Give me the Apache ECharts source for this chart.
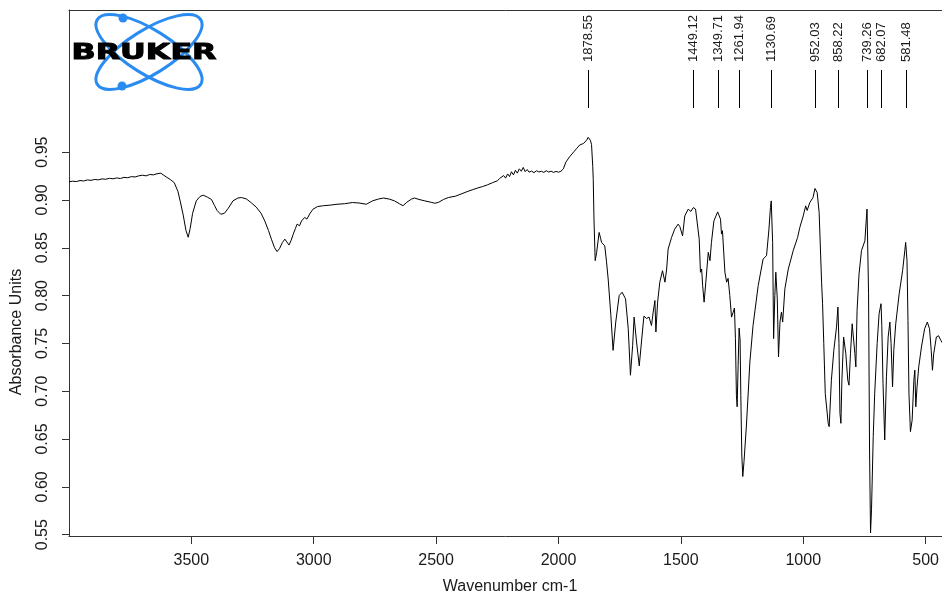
<!DOCTYPE html>
<html>
<head>
<meta charset="utf-8">
<title>IR spectrum</title>
<script src="https://cdn.jsdelivr.net/npm/echarts@6/dist/echarts.min.js"></script>
<style>
  html, body { margin: 0; padding: 0; background: #fff; }
  #main { width: 942px; height: 600px; }
</style>
</head>
<body>
<div id="main"></div>
<script>
// Absorbance spectrum: [wavenumber (cm-1), absorbance]
const spectrum = [
  [4000, 0.9190], [3985, 0.9196], [3970, 0.9192], [3955, 0.9203], [3940, 0.9198],
  [3925, 0.9209], [3910, 0.9205], [3895, 0.9214], [3880, 0.9210], [3865, 0.9220],
  [3850, 0.9216], [3835, 0.9226], [3820, 0.9221], [3805, 0.9230], [3790, 0.9224],
  [3775, 0.9236], [3760, 0.9232], [3745, 0.9244], [3730, 0.9240], [3715, 0.9252],
  [3700, 0.9258], [3685, 0.9252], [3670, 0.9266], [3655, 0.9262], [3640, 0.9274],
  [3625, 0.9280], [3615, 0.9262], [3600, 0.9236], [3585, 0.9212], [3570, 0.9180],
  [3555, 0.9090], [3545, 0.8980], [3534, 0.8850], [3522, 0.8680], [3513, 0.8610],
  [3505, 0.8700], [3495, 0.8860], [3480, 0.8990], [3465, 0.9035], [3452, 0.9050],
  [3435, 0.9030], [3418, 0.9005], [3405, 0.8940], [3395, 0.8890], [3380, 0.8850],
  [3365, 0.8860], [3350, 0.8910], [3330, 0.8990], [3310, 0.9020], [3295, 0.9025],
  [3275, 0.9010], [3255, 0.8970], [3235, 0.8925], [3215, 0.8860], [3200, 0.8780],
  [3185, 0.8680], [3173, 0.8590], [3160, 0.8500], [3150, 0.8460], [3140, 0.8490],
  [3128, 0.8555], [3118, 0.8590], [3110, 0.8595], [3101, 0.8528], [3092, 0.8580],
  [3084, 0.8640], [3075, 0.8700], [3068, 0.8747], [3058, 0.8730], [3050, 0.8780],
  [3037, 0.8817], [3028, 0.8800], [3015, 0.8860], [3003, 0.8903], [2985, 0.8930],
  [2960, 0.8940], [2935, 0.8945], [2905, 0.8955], [2875, 0.8960], [2842, 0.8973],
  [2815, 0.8968], [2785, 0.8955], [2760, 0.8990], [2735, 0.9010], [2715, 0.9020],
  [2690, 0.9008], [2670, 0.8990], [2650, 0.8960], [2635, 0.8940], [2620, 0.8975],
  [2600, 0.9010], [2588, 0.9020], [2570, 0.9005], [2546, 0.8990], [2520, 0.8975],
  [2505, 0.8965], [2490, 0.8975], [2470, 0.9005], [2450, 0.9025], [2420, 0.9040],
  [2390, 0.9070], [2370, 0.9090], [2350, 0.9108], [2330, 0.9125], [2310, 0.9140],
  [2290, 0.9158], [2270, 0.9180], [2250, 0.9200], [2240, 0.9225], [2232, 0.9205],
  [2224, 0.9255], [2216, 0.9228], [2208, 0.9272], [2200, 0.9245], [2192, 0.9295],
  [2184, 0.9262], [2176, 0.9310], [2168, 0.9280], [2160, 0.9325], [2152, 0.9300],
  [2144, 0.9340], [2136, 0.9295], [2128, 0.9318], [2120, 0.9290], [2110, 0.9302],
  [2100, 0.9285], [2090, 0.9305], [2080, 0.9292], [2070, 0.9300], [2060, 0.9288],
  [2050, 0.9305], [2040, 0.9292], [2030, 0.9300], [2020, 0.9288], [2010, 0.9298],
  [2000, 0.9290], [1990, 0.9300], [1980, 0.9325], [1970, 0.9395], [1962, 0.9385],
  [1955, 0.9450], [1945, 0.9480], [1935, 0.9510], [1925, 0.9540], [1913, 0.9575],
  [1905, 0.9565], [1898, 0.9590], [1892, 0.9582], [1885, 0.9625], [1878.55, 0.9655],
  [1870, 0.9625], [1865, 0.9580], [1860, 0.9350], [1858, 0.9216], [1855, 0.8800],
  [1850, 0.8365], [1844, 0.8452], [1834, 0.8660], [1828, 0.8600], [1824, 0.8556],
  [1817, 0.8573], [1811, 0.8520], [1804, 0.8360], [1797, 0.8174], [1786, 0.7792],
  [1777, 0.7427], [1766, 0.7723], [1752, 0.8000], [1740, 0.8035], [1726, 0.7966],
  [1715, 0.7653], [1706, 0.7167], [1697, 0.7480], [1691, 0.7775], [1681, 0.7515],
  [1670, 0.7265], [1661, 0.7515], [1651, 0.7785], [1640, 0.7760], [1630, 0.7775],
  [1620, 0.7687], [1613, 0.7827], [1606, 0.7948], [1602, 0.7619], [1595, 0.7931],
  [1586, 0.8140], [1575, 0.8260], [1565, 0.8140], [1558, 0.8278], [1552, 0.8486],
  [1538, 0.8608], [1525, 0.8695], [1511, 0.8747], [1504, 0.8720], [1493, 0.8625],
  [1484, 0.8833], [1470, 0.8903], [1459, 0.8880], [1449.12, 0.8920], [1440, 0.8905],
  [1434, 0.8885], [1425, 0.8590], [1420, 0.8244], [1415, 0.8278], [1411, 0.8104],
  [1405, 0.7931], [1398, 0.8140], [1388, 0.8452], [1381, 0.8365], [1375, 0.8556],
  [1365, 0.8781], [1349.71, 0.8875], [1338, 0.8799], [1334, 0.8643], [1330, 0.8678],
  [1320, 0.8244], [1313, 0.8140], [1307, 0.8180], [1300, 0.8000], [1293, 0.7775],
  [1286, 0.7827], [1281, 0.7870], [1277, 0.7549], [1273, 0.6958], [1270, 0.6837],
  [1266, 0.7271], [1261.94, 0.7660], [1258, 0.7535], [1255, 0.6958], [1251, 0.6333],
  [1247, 0.6108], [1242, 0.6264], [1232, 0.6646], [1218, 0.7306], [1205, 0.7688],
  [1184, 0.8104], [1164, 0.8382], [1150, 0.8417], [1140, 0.8695], [1134, 0.8920],
  [1130.69, 0.8990], [1125, 0.8556], [1121, 0.7549], [1116, 0.8000], [1112, 0.8244],
  [1106, 0.7965], [1101, 0.7358], [1095, 0.7723], [1089, 0.7827], [1084, 0.7723],
  [1075, 0.8070], [1061, 0.8278], [1041, 0.8469], [1023, 0.8608], [1014, 0.8712],
  [1007, 0.8695], [1000, 0.8833], [990, 0.8938], [984, 0.8890], [973, 0.8973],
  [960, 0.9025], [952.03, 0.9120], [943, 0.9077], [935, 0.8869], [929, 0.8434],
  [925, 0.8140], [921, 0.7914], [916, 0.7497], [910, 0.6976], [905, 0.6970],
  [898, 0.6664], [894, 0.6629], [885, 0.7115], [875, 0.7427], [864, 0.7670],
  [858.22, 0.7880], [854, 0.7497], [850, 0.6768], [846, 0.6664], [842, 0.7115],
  [835, 0.7567], [826, 0.7393], [818, 0.7115], [813, 0.7063], [807, 0.7393],
  [800, 0.7705], [796, 0.7688], [789, 0.7393], [785, 0.7254], [780, 0.7844],
  [772, 0.8226], [762, 0.8469], [748, 0.8573], [741, 0.8851], [739.26, 0.8905],
  [733, 0.8018], [729, 0.6385], [725, 0.5518], [721, 0.5760], [714, 0.6525],
  [708, 0.6976], [698, 0.7497], [690, 0.7810], [682.07, 0.7915], [679, 0.7688],
  [674, 0.7080], [667, 0.6490], [660, 0.7150], [653, 0.7567], [646, 0.7723],
  [641, 0.7497], [635, 0.7046], [630, 0.7427], [622, 0.7705], [608, 0.8018],
  [594, 0.8260], [585, 0.8469], [581.48, 0.8556], [576, 0.8365], [572, 0.7740],
  [568, 0.6976], [562, 0.6577], [555, 0.6698], [548, 0.7115], [544, 0.7220],
  [540, 0.6837], [535, 0.7046], [528, 0.7254], [517, 0.7462], [504, 0.7653],
  [493, 0.7723], [484, 0.7653], [477, 0.7427], [472, 0.7219], [467, 0.7390],
  [456, 0.7567], [447, 0.7580], [438, 0.7532], [430, 0.7500]
];

// Picked peak positions (cm-1)
const peakWavenumbers = [1878.55, 1449.12, 1349.71, 1261.94, 1130.69, 952.03, 858.22, 739.26, 682.07, 581.48];

// Axis tick values
const xTicks = [3500, 3000, 2500, 2000, 1500, 1000, 500];
const yTicks = [0.55, 0.60, 0.65, 0.70, 0.75, 0.80, 0.85, 0.90, 0.95];

const FONT = '"Liberation Sans", Arial, Helvetica, sans-serif';
const AXIS_COLOR = '#333';
const TEXT_COLOR = '#1a1a1a';

const chart = echarts.init(document.getElementById('main'), null, { renderer: 'canvas' });

function renderPeak(params, api) {
  const w = api.value(0);
  const x = Math.round(api.coord([w, 0.8])[0]) + 0.5;
  const top = params.coordSys.y;
  return {
    type: 'group',
    children: [
      {
        type: 'line',
        shape: { x1: x, y1: top + 60, x2: x, y2: top + 98 },
        style: { stroke: '#000', lineWidth: 1 }
      },
      {
        type: 'text',
        x: x,
        y: top + 52,
        rotation: Math.PI / 2,
        style: {
          text: w.toFixed(2),
          fontSize: 13,
          fontFamily: FONT,
          fill: TEXT_COLOR,
          align: 'left',
          verticalAlign: 'middle'
        }
      }
    ]
  };
}

// The visible window runs from 4000 cm-1 down to about 433 cm-1
const X_MIN = 433;
const X_MAX = 4000;

const option = {
  animation: false,
  backgroundColor: '#ffffff',
  grid: { left: 69, right: 0, top: 10, bottom: 62 },
  xAxis: [
    {
      type: 'value',
      min: X_MIN,
      max: X_MAX,
      inverse: true,
      position: 'bottom',
      axisLine: { show: true, onZero: false, lineStyle: { color: AXIS_COLOR, width: 1 } },
      axisTick: { show: true, length: 8, customValues: xTicks, lineStyle: { color: AXIS_COLOR } },
      axisLabel: {
        customValues: xTicks,
        margin: 17,
        fontSize: 16,
        fontFamily: FONT,
        color: TEXT_COLOR,
        formatter: v => String(v)
      },
      splitLine: { show: false },
      name: 'Wavenumber cm-1',
      nameLocation: 'middle',
      nameGap: 43,
      nameTextStyle: { fontSize: 16, fontFamily: FONT, color: TEXT_COLOR, padding: [0, 0, 0, 9] }
    },
    {
      type: 'value',
      min: X_MIN,
      max: X_MAX,
      inverse: true,
      position: 'top',
      axisLine: { show: true, onZero: false, lineStyle: { color: AXIS_COLOR, width: 1 } },
      axisTick: { show: false },
      axisLabel: { show: false },
      splitLine: { show: false }
    }
  ],
  yAxis: {
    type: 'value',
    min: 0.5486,
    max: 1.0986,
    axisLine: { show: true, onZero: false, lineStyle: { color: AXIS_COLOR, width: 1 } },
    axisTick: { show: true, length: 7, customValues: yTicks, lineStyle: { color: AXIS_COLOR } },
    axisLabel: {
      customValues: yTicks,
      rotate: 90,
      margin: 18,
      fontSize: 16,
      fontFamily: FONT,
      color: TEXT_COLOR,
      formatter: v => v.toFixed(2)
    },
    splitLine: { show: false }
  },
  series: [
    {
      type: 'line',
      data: spectrum,
      xAxisIndex: 0,
      showSymbol: false,
      symbol: 'none',
      clip: true,
      lineStyle: { color: '#000', width: 1 },
      silent: true
    },
    {
      type: 'custom',
      xAxisIndex: 0,
      data: peakWavenumbers.map(w => [w]),
      renderItem: renderPeak,
      silent: true
    }
  ],
  graphic: [
    {
      type: 'text',
      x: 17,
      y: 332,
      rotation: Math.PI / 2,
      style: {
        text: 'Absorbance Units',
        fontSize: 16,
        fontFamily: FONT,
        fill: TEXT_COLOR,
        align: 'center',
        verticalAlign: 'middle'
      }
    },
    // Bruker logo: two crossed orbits, two electrons and the word mark
    {
      type: 'group',
      z: 20,
      children: [
        {
          type: 'ellipse',
          x: 149, y: 52,
          rotation: -0.56,
          shape: { cx: 0, cy: 0, rx: 61, ry: 22 },
          style: { fill: 'none', stroke: '#2a8cf0', lineWidth: 3 }
        },
        {
          type: 'ellipse',
          x: 149, y: 52,
          rotation: 0.56,
          shape: { cx: 0, cy: 0, rx: 61, ry: 22 },
          style: { fill: 'none', stroke: '#2a8cf0', lineWidth: 3 }
        },
        {
          type: 'circle',
          shape: { cx: 123, cy: 18, r: 4.5 },
          style: { fill: '#2a8cf0' }
        },
        {
          type: 'circle',
          shape: { cx: 122, cy: 86, r: 4.5 },
          style: { fill: '#2a8cf0' }
        },
        {
          type: 'text',
          x: 144, y: 53,
          scaleX: 1.44,
          style: {
            text: 'BRUKER',
            fontSize: 22,
            fontWeight: 'bold',
            fontFamily: '"DejaVu Sans", sans-serif',
            fill: '#000',
            stroke: '#000',
            lineWidth: 1,
            align: 'center',
            verticalAlign: 'middle'
          }
        }
      ]
    }
  ]
};

chart.setOption(option);
</script>
</body>
</html>
